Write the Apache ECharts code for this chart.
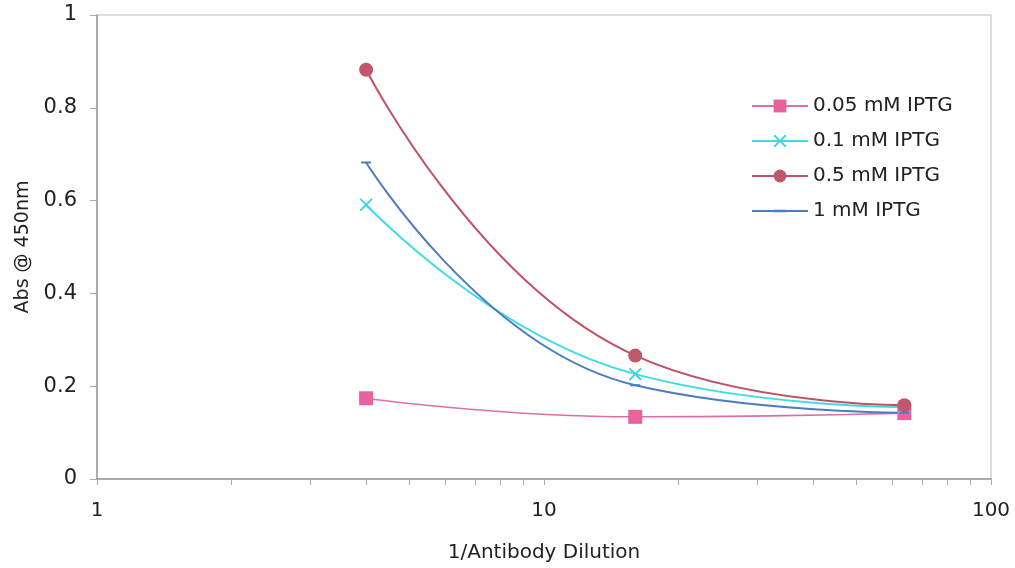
<!DOCTYPE html>
<html>
<head>
<meta charset="utf-8">
<script src="https://cdn.jsdelivr.net/npm/echarts@6/dist/echarts.min.js"></script>
<style>
  html, body { margin: 0; padding: 0; background: #fff; }
  #container { width: 1015px; height: 568px; }
</style>
</head>
<body>
<div id="container"></div>
<script>
// dilution factors (x) and absorbance readings per IPTG concentration
var dilutions = [4, 16, 64];
var ipt005 = [0.174, 0.134, 0.142];
var ipt01 = [0.591, 0.226, 0.155];
var ipt05 = [0.882, 0.266, 0.159];
var ipt1 = [0.682, 0.202, 0.143];
var seriesNames = ['0.05 mM IPTG', '0.1 mM IPTG', '0.5 mM IPTG', '1 mM IPTG'];
var xTicks = [1, 2, 3, 4, 5, 6, 7, 8, 9, 10, 20, 30, 40, 50, 60, 70, 80, 90, 100];
var xLabels = [1, 10, 100];

function pairs(ys) {
    return dilutions.map(function (x, i) { return [x, ys[i]]; });
}

var crossPath = 'path://M1,0L5,4L9,0L10,1L6,5L10,9L9,10L5,6L1,10L0,9L4,5L0,1Z';
// thin dash inside a 10x10 box (degenerate corners keep the box square)
var dashPath = 'path://M0,0L0,0ZM0,4L10,4L10,6L0,6ZM10,10L10,10Z';
var font = 'DejaVu Sans, Liberation Sans, sans-serif';

var dom = document.getElementById('container');
var myChart = echarts.init(dom);

var option = {
    animation: false,
    backgroundColor: '#fff',
    grid: {
        left: 97, right: 24, top: 15, bottom: 86,
        show: true,
        borderColor: '#bdbdbd',
        borderWidth: 1
    },
    legend: {
        orient: 'vertical',
        left: 751,
        top: 96,
        padding: 0,
        itemWidth: 56,
        itemHeight: 16,
        itemGap: 15,
        textStyle: { fontFamily: font, fontSize: 20, color: '#222', lineHeight: 20 },
        data: seriesNames
    },
    xAxis: {
        type: 'log',
        logBase: 10,
        min: 1,
        max: 100,
        name: '1/Antibody Dilution',
        nameLocation: 'middle',
        nameGap: 64,
        nameTextStyle: { fontFamily: font, fontSize: 20, color: '#222' },
        axisLine: { show: true, lineStyle: { color: '#9a9a9a', width: 1.5 } },
        axisTick: { show: true, length: 6, customValues: xTicks, lineStyle: { color: '#aaa' } },
        axisLabel: { customValues: xLabels, margin: 22, fontFamily: font, fontSize: 20, color: '#222' },
        splitLine: { show: false },
        minorTick: { show: false }
    },
    yAxis: {
        type: 'value',
        min: 0,
        max: 1,
        interval: 0.2,
        name: 'Abs @ 450nm',
        nameLocation: 'middle',
        nameGap: 60,
        nameTextStyle: { fontFamily: font, fontSize: 19, color: '#222' },
        axisLine: { show: true, lineStyle: { color: '#9a9a9a', width: 1.5 } },
        axisTick: { show: true, length: 7, lineStyle: { color: '#aaa' } },
        axisLabel: { margin: 20, fontFamily: font, fontSize: 21, color: '#222' },
        splitLine: { show: false }
    },
    series: [
        {
            name: seriesNames[0], type: 'line', smooth: true,
            data: pairs(ipt005),
            symbol: 'rect', symbolSize: 14,
            lineStyle: { color: '#dd6fa6', width: 1.6 },
            itemStyle: { color: '#e8629e' }
        },
        {
            name: seriesNames[1], type: 'line', smooth: true,
            data: pairs(ipt01),
            symbol: crossPath, symbolSize: 13,
            lineStyle: { color: '#3fdde2', width: 2 },
            itemStyle: { color: '#3fd4da' }
        },
        {
            name: seriesNames[2], type: 'line', smooth: true,
            data: pairs(ipt05),
            symbol: 'circle', symbolSize: 14,
            lineStyle: { color: '#bf5266', width: 2 },
            itemStyle: { color: '#c2566a' }
        },
        {
            name: seriesNames[3], type: 'line', smooth: true,
            data: pairs(ipt1),
            symbol: dashPath, symbolSize: 10,
            lineStyle: { color: '#4c7cc2', width: 2 },
            itemStyle: { color: '#4c7cc2' }
        }
    ]
};

myChart.setOption(option, true);
</script>
</body>
</html>
